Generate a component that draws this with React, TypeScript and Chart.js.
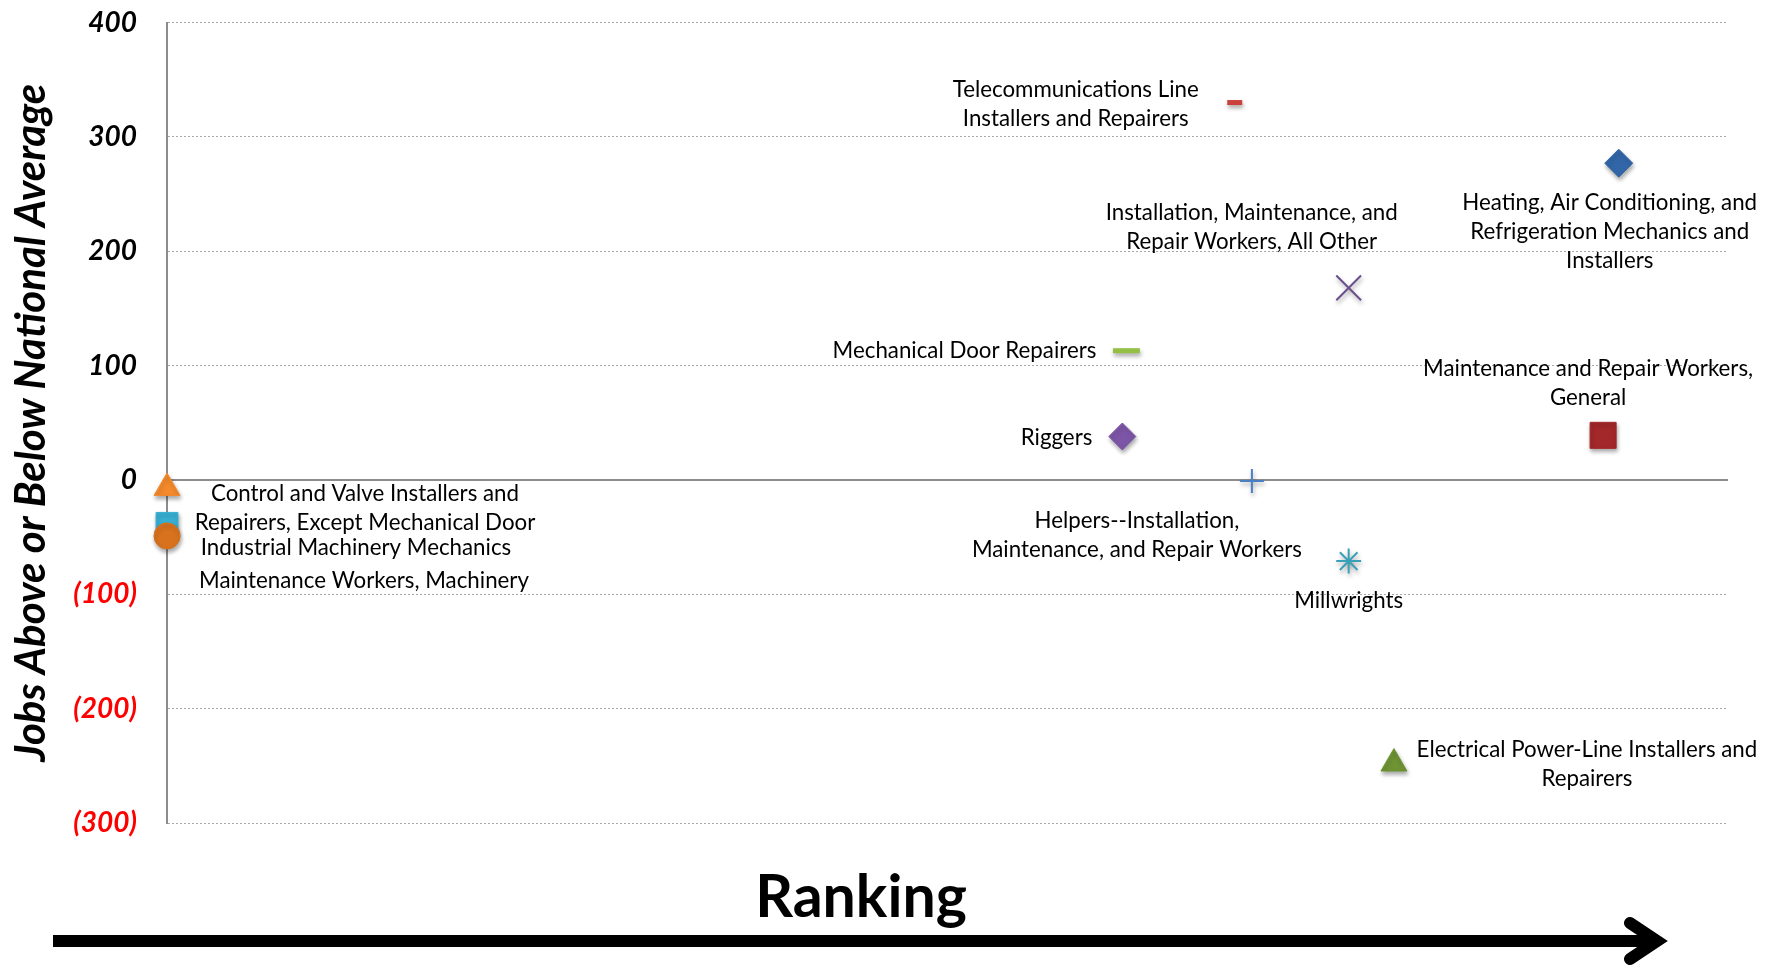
import React, { useEffect, useRef } from "react";
import { Chart, registerables } from "chart.js";

Chart.register(...registerables);

// ---- data ----
const occupations = [
  "Control and Valve Installers and\nRepairers, Except Mechanical Door",
  "Maintenance Workers, Machinery",
  "Industrial Machinery Mechanics",
  "Telecommunications Line\nInstallers and Repairers",
  "Heating, Air Conditioning, and\nRefrigeration Mechanics and\nInstallers",
  "Installation, Maintenance, and\nRepair Workers, All Other",
  "Mechanical Door Repairers",
  "Maintenance and Repair Workers,\nGeneral",
  "Riggers",
  "Helpers--Installation,\nMaintenance, and Repair Workers",
  "Millwrights",
  "Electrical Power-Line Installers and\nRepairers",
];
const rankings = [0, 0, 0, 34.2, 46.5, 37.85, 30.73, 46.0, 30.6, 34.75, 37.85, 39.3];
const jobsVsNational = [-7, -49, -38, 330, 277, 168, 113, 39, 38, -1, -71, -248];
const yTicks = [-300, -200, -100, 0, 100, 200, 300, 400];

// ---- styles (kept separate from data) ----
const markerStyles = ["triangle", "circle", "rect", "line", "rectRot", "crossRot", "line", "rect", "rectRot", "cross", "star", "triangle"];
const markerColors = ["#f58a2c", "#d8721e", "#38b0d3", "#c9403c", "#3266a8", "#6a4f8c", "#93bf45", "#a3282a", "#7d55a6", "#4a7fc4", "#3aa0b8", "#6f9434"];
const markerRadii = [15, 13, 15.5, 7.5, 14, 17.5, 13.5, 18.4, 13.5, 12, 12.5, 15];
const markerBorderWidths = [1, 1, 1, 5, 1, 2, 5, 1, 1, 2, 2, 1];
const labelPlacement = [
  { dx: 198, dy: 6, align: "center" },
  { dx: 197, dy: 45, align: "center" },
  { dx: 189, dy: 24, align: "center" },
  { dx: -159, dy: -13, align: "center" },
  { dx: -9, dy: 40, align: "center" },
  { dx: -97, dy: -75, align: "center" },
  { dx: -30, dy: 0, align: "right" },
  { dx: -15, dy: -67, align: "center" },
  { dx: -30, dy: 1, align: "right" },
  { dx: -115, dy: 40, align: "center" },
  { dx: 0, dy: 40, align: "center" },
  { dx: 193, dy: -14, align: "center" },
];
const LINE_GAP = 29;

const FONT = "Lato, 'Open Sans', sans-serif";

const shadowPlugin = {
  id: "shadowPlugin",
  beforeDatasetsDraw(chart: any) {
    const ctx = chart.ctx;
    ctx.save();
    ctx.shadowColor = "rgba(0,0,0,0.35)";
    ctx.shadowBlur = 4;
    ctx.shadowOffsetX = 1;
    ctx.shadowOffsetY = 3;
  },
  afterDatasetsDraw(chart: any) {
    chart.ctx.restore();
  },
};

const zeroLinePlugin = {
  id: "zeroLine",
  beforeDatasetsDraw(chart: any) {
    const ctx = chart.ctx;
    const y = chart.scales.y.getPixelForValue(0);
    ctx.save();
    ctx.strokeStyle = "#8c8c8c";
    ctx.lineWidth = 2;
    ctx.beginPath();
    ctx.moveTo(chart.chartArea.left, y);
    ctx.lineTo(chart.chartArea.right, y);
    ctx.stroke();
    ctx.restore();
  },
};

const labelPlugin = {
  id: "pointLabels",
  afterDatasetsDraw(chart: any) {
    const ctx = chart.ctx;
    ctx.save();
    ctx.font = `22.3px ${FONT}`;
    ctx.fillStyle = "#000";
    ctx.textBaseline = "middle";
    chart.data.datasets.forEach((ds: any, i: number) => {
      const meta = chart.getDatasetMeta(i);
      const pt = meta.data[0];
      if (!pt) return;
      const p = labelPlacement[i];
      ctx.textAlign = p.align;
      const lines = occupations[i].split("\n");
      lines.forEach((line, k) => {
        ctx.fillText(line, pt.x + p.dx, pt.y + p.dy + k * LINE_GAP);
      });
    });
    ctx.restore();
  },
};

const rankingPlugin = {
  id: "rankingArrow",
  afterDraw(chart: any) {
    const ctx = chart.ctx;
    ctx.save();
    ctx.fillStyle = "#000";
    ctx.font = `bold 59px ${FONT}`;
    ctx.textAlign = "center";
    ctx.textBaseline = "alphabetic";
    ctx.fillText("Ranking", 861, 917);
    // arrow shaft
    ctx.strokeStyle = "#000";
    ctx.lineWidth = 12;
    ctx.lineCap = "butt";
    ctx.beginPath();
    ctx.moveTo(53, 941);
    ctx.lineTo(1655, 941);
    ctx.stroke();
    // arrow head (open chevron)
    ctx.lineWidth = 12;
    ctx.lineJoin = "miter";
    ctx.miterLimit = 10;
    ctx.lineCap = "round";
    ctx.beginPath();
    ctx.moveTo(1630, 923);
    ctx.lineTo(1657, 941);
    ctx.lineTo(1630, 959);
    ctx.stroke();
    ctx.restore();
  },
};

export default function App() {
  const canvasRef = useRef<HTMLCanvasElement | null>(null);

  useEffect(() => {
    if (!canvasRef.current) return;
    const datasets = occupations.map((name, i) => ({
      label: name.replace(/\n/g, " "),
      data: [{ x: rankings[i], y: jobsVsNational[i] }],
      pointStyle: markerStyles[i],
      pointRadius: markerRadii[i],
      pointBackgroundColor: markerColors[i],
      pointBorderColor: markerColors[i],
      pointBorderWidth: markerBorderWidths[i],
      showLine: false,
      clip: false,
    }));

    const chart = new Chart(canvasRef.current, {
      type: "scatter",
      data: { datasets },
      options: {
        animation: false,
        responsive: true,
        maintainAspectRatio: false,
        layout: { padding: { left: 0, top: 22.5, right: 50, bottom: 144 } },
        plugins: {
          legend: { display: false },
          tooltip: { enabled: false },
        },
        scales: {
          x: {
            type: "linear",
            min: 0,
            max: 50,
            display: false,
          },
          y: {
            type: "linear",
            min: yTicks[0],
            max: yTicks[yTicks.length - 1],
            afterBuildTicks(scale: any) {
              scale.ticks = yTicks.map((v) => ({ value: v }));
            },
            afterFit(scale: any) {
              scale.width = 167;
              scale.paddingTop = 0;
              scale.paddingBottom = 0;
            },
            ticks: {
              padding: 30,
              color: (ctx: any) => (ctx.tick && ctx.tick.value < 0 ? "#ff0000" : "#000000"),
              font: { family: FONT, size: 28, style: "italic", weight: "bold" },
              callback: (v: any) => (Number(v) < 0 ? `(${-Number(v)})` : `${v}`),
            },
            grid: {
              color: "#a8a8a8",
              lineWidth: 1,
              drawTicks: false,
            },
            border: {
              display: true,
              color: "#8c8c8c",
              width: 2,
              dash: [2, 2],
            },
            title: {
              display: true,
              text: "Jobs Above or Below National Average",
              color: "#000",
              font: { family: FONT, size: 42, style: "italic", weight: "bold" },
              padding: { top: 6, bottom: 0 },
            },
          },
        },
      },
      plugins: [zeroLinePlugin, shadowPlugin, labelPlugin, rankingPlugin],
    } as any);

    return () => chart.destroy();
  }, []);

  return (
    <div style={{ position: "absolute", left: 0, top: 0, width: 1778, height: 967, background: "#fff" }}>
      <canvas ref={canvasRef} />
    </div>
  );
}
